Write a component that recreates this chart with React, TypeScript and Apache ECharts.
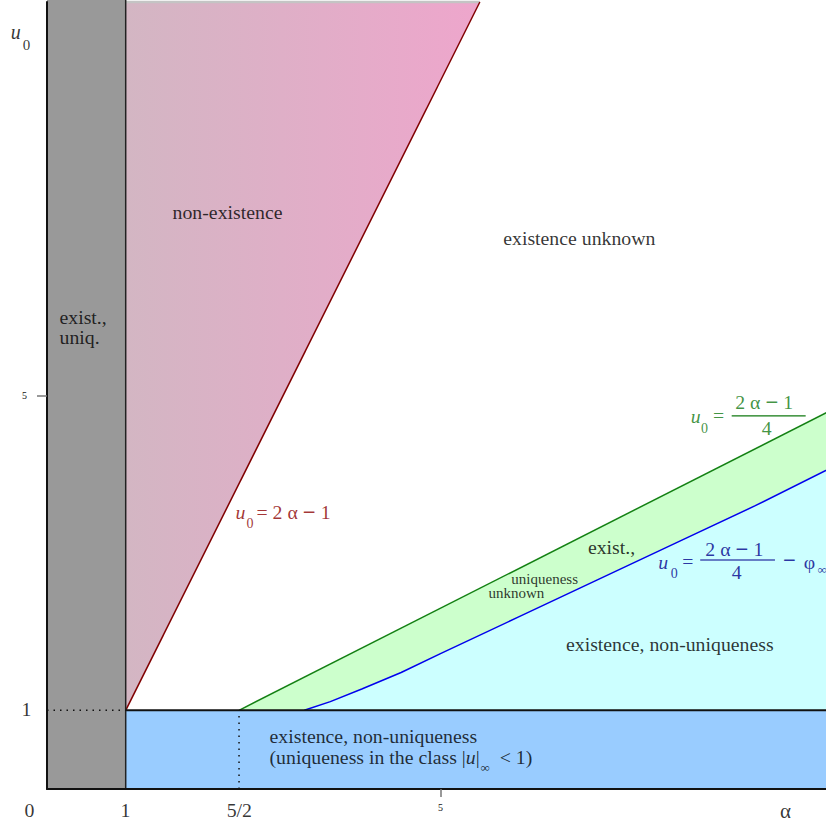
import React, { useEffect, useRef } from "react";
import * as echarts from "echarts";

// ---------- data (α on x, u0 on y) ----------
const X_RANGE = [0, 10];
const Y_RANGE = [0, 10];
const X_TICK_VALUES = [5];
const Y_TICK_VALUES = [5];

const GRAY_REGION = [[0, 0], [1, 0], [1, 10.03], [0, 10.03]];
const NONEXIST_REGION = [[1, 1], [5.5, 10], [1, 10]];
const LOW_REGION = [[1, 0], [10, 0], [10, 1], [1, 1]];
const RED_LINE = [[1, 1], [5.5, 10]];
const GREEN_LINE = [[2.44, 1], [10, 4.83]];
const BLUE_CURVE = [
  [3.27, 1], [3.6, 1.11], [4.0, 1.27], [4.5, 1.48], [5.0, 1.72],
  [6.0, 2.19], [7.0, 2.66], [8.0, 3.13], [9.0, 3.6], [10, 4.1],
];
const THRESHOLD_LINE = [[1, 1], [10, 1]];
const ALPHA_ONE_LINE = [[1, 0], [1, 10.03]];
const TOP_EDGE = [[1, 10], [5.5, 10]];
const DOTTED_H = [[0, 1], [1, 1]];
const DOTTED_V = [[2.44, 0], [2.44, 1]];
const GREEN_FRAC_BAR = [[8.7, 4.74], [9.64, 4.74]];
const BLUE_FRAC_BAR = [[8.3, 2.91], [9.25, 2.91]];

const CYAN_REGION = [...BLUE_CURVE, [10, 1]];
const GREEN_REGION = [...GREEN_LINE, ...[...BLUE_CURVE].reverse()];

const SERIF = "'Liberation Serif', 'Times New Roman', serif";
const BASE = 19.8;

type Ann = {
  text: string;
  at: number[];
  size?: number;
  color?: string;
  align?: string;
  italic?: boolean;
  lineHeight?: number;
};

const RED_T = "#8b0000";
const GREEN_T = "#107810";
const BLUE_T = "#00008b";

const ANNOTATIONS: Ann[] = [
  { text: "non-existence", at: [2.3, 7.32] },
  { text: "existence unknown", at: [6.77, 7.0] },
  { text: "exist.,\nuniq.", at: [0.165, 5.86], align: "left", lineHeight: 20 },
  { text: "exist.,", at: [7.18, 3.07] },
  { text: "uniqueness", at: [6.33, 2.66], size: 15 },
  { text: "unknown", at: [5.97, 2.49], size: 15 },
  { text: "existence, non-uniqueness", at: [7.92, 1.83] },
  { text: "existence, non-uniqueness", at: [2.834, 0.661], align: "left" },
  { text: "(uniqueness in the class |{i|u}|{s|∞}  < 1)", at: [2.834, 0.394], align: "left" },
  // red formula
  { text: "u", at: [2.465, 3.507], italic: true, color: RED_T },
  { text: "0", at: [2.585, 3.37], size: 14, color: RED_T },
  { text: "= 2 α {m|−} 1", at: [2.668, 3.507], align: "left", color: RED_T },
  // green formula
  { text: "u", at: [8.25, 4.727], italic: true, color: GREEN_T },
  { text: "0", at: [8.36, 4.58], size: 14, color: GREEN_T },
  { text: "=", at: [8.54, 4.74], color: GREEN_T },
  { text: "2 α {m|−} 1", at: [9.12, 4.905], color: GREEN_T },
  { text: "4", at: [9.15, 4.587], color: GREEN_T },
  // blue formula
  { text: "u", at: [7.835, 2.884], italic: true, color: BLUE_T },
  { text: "0", at: [7.975, 2.73], size: 14, color: BLUE_T },
  { text: "=", at: [8.15, 2.897], color: BLUE_T },
  { text: "2 α {m|−} 1", at: [8.74, 3.037], color: BLUE_T },
  { text: "4", at: [8.77, 2.745], color: BLUE_T },
  { text: "{m|−}", at: [9.44, 2.897], color: BLUE_T },
  { text: "φ", at: [9.695, 2.884], color: BLUE_T },
  { text: "∞", at: [9.797, 2.783], align: "left", size: 13, color: BLUE_T },
  // axis labels
  { text: "0", at: [-0.216, -0.267] },
  { text: "1", at: [1.004, -0.267] },
  { text: "5/2", at: [2.45, -0.267] },
  { text: "α", at: [9.39, -0.29], size: 21 },
  { text: "1", at: [-0.254, 1.004] },
  { text: "u", at: [-0.39, 9.61], italic: true, size: 20 },
  { text: "0", at: [-0.255, 9.45], size: 15 },
];

function polygonSeries(pts: number[][], fill: any, z: number) {
  return {
    type: "custom",
    z,
    silent: true,
    clip: false,
    data: [[0, 0]],
    renderItem: (_p: any, api: any) => ({
      type: "polygon",
      shape: { points: pts.map((p) => api.coord(p)) },
      style: { fill, stroke: "none" },
    }),
  };
}

function lineSeries(pts: number[][], color: string, width: number, z: number, type: any = "solid") {
  return {
    type: "line",
    data: pts,
    symbol: "none",
    showSymbol: false,
    clip: false,
    silent: true,
    z,
    lineStyle: { color, width, type },
  };
}

export default function App() {
  const ref = useRef<HTMLDivElement>(null);
  useEffect(() => {
    document.body.style.margin = "0";
    const chart = echarts.init(ref.current!, null, { renderer: "svg" });
    const pink = new echarts.graphic.LinearGradient(0, 0, 1, 0, [
      { offset: 0, color: "#d3b6c3" },
      { offset: 1, color: "#eea6cc" },
    ]);
    const labelData = ANNOTATIONS.map((a) => {
      const size = a.size || BASE;
      const color = a.color || "#000";
      return {
        value: a.at,
        label: {
          show: true,
          formatter: a.text,
          position: [0, 0],
          align: a.align || "center",
          verticalAlign: "middle",
          fontSize: size,
          fontFamily: SERIF,
          fontStyle: a.italic ? "italic" : "normal",
          color,
          lineHeight: a.lineHeight || Math.round(size * 1.15),
          rich: {
            i: { fontStyle: "italic", fontSize: size, fontFamily: SERIF, color },
            s: { fontSize: 13, fontFamily: SERIF, color, padding: [20, 0, 0, 1] },
            m: { fontWeight: "bold", fontSize: size + 3, fontFamily: SERIF, color },
          },
        },
      };
    });
    chart.setOption({
      animation: false,
      backgroundColor: "#ffffff",
      grid: { left: 47, top: 2, width: 787, height: 787, outerBoundsMode: "none", containLabel: false },
      xAxis: {
        type: "value",
        min: X_RANGE[0],
        max: X_RANGE[1],
        z: 6,
        axisLine: { show: true, onZero: false, lineStyle: { color: "#111", width: 2 } },
        splitLine: { show: false },
        axisTick: { show: true, customValues: X_TICK_VALUES, length: 8, lineStyle: { color: "#777", width: 1.5 } },
        axisLabel: { show: true, customValues: X_TICK_VALUES, fontSize: 10, margin: 13, color: "#111", fontFamily: SERIF },
      },
      yAxis: {
        type: "value",
        min: Y_RANGE[0],
        max: Y_RANGE[1],
        z: 6,
        axisLine: { show: true, onZero: false, lineStyle: { color: "#111", width: 2 } },
        splitLine: { show: false },
        axisTick: { show: true, customValues: Y_TICK_VALUES, length: 10, lineStyle: { color: "#777", width: 1.5 } },
        axisLabel: { show: true, customValues: Y_TICK_VALUES, fontSize: 10, margin: 20, color: "#111", fontFamily: SERIF },
      },
      series: [
        polygonSeries(GRAY_REGION, "#999999", 1),
        polygonSeries(NONEXIST_REGION, pink, 1),
        polygonSeries(LOW_REGION, "#99ccff", 1),
        polygonSeries(CYAN_REGION, "#ccffff", 1),
        polygonSeries(GREEN_REGION, "#ccffcc", 1),
        lineSeries(TOP_EDGE, "#c4c4c4", 2.5, 3),
        lineSeries(RED_LINE, "#800000", 1.5, 3),
        lineSeries(GREEN_LINE, "#138013", 1.5, 3),
        lineSeries(BLUE_CURVE, "#0000ee", 1.5, 3),
        lineSeries(THRESHOLD_LINE, "#111", 2, 4),
        lineSeries(ALPHA_ONE_LINE, "#222", 1.5, 4),
        lineSeries(DOTTED_H, "#111", 1.5, 4, [1.5, 5]),
        lineSeries(DOTTED_V, "#111", 1.5, 4, [1.5, 5]),
        lineSeries(GREEN_FRAC_BAR, GREEN_T, 1.2, 4),
        lineSeries(BLUE_FRAC_BAR, BLUE_T, 1.2, 4),
        {
          type: "scatter",
          z: 10,
          silent: true,
          clip: false,
          symbolSize: 1,
          itemStyle: { color: "rgba(0,0,0,0)" },
          data: labelData,
        },
      ],
    });
    return () => chart.dispose();
  }, []);
  return <div ref={ref} style={{ width: 826, height: 824 }} />;
}
